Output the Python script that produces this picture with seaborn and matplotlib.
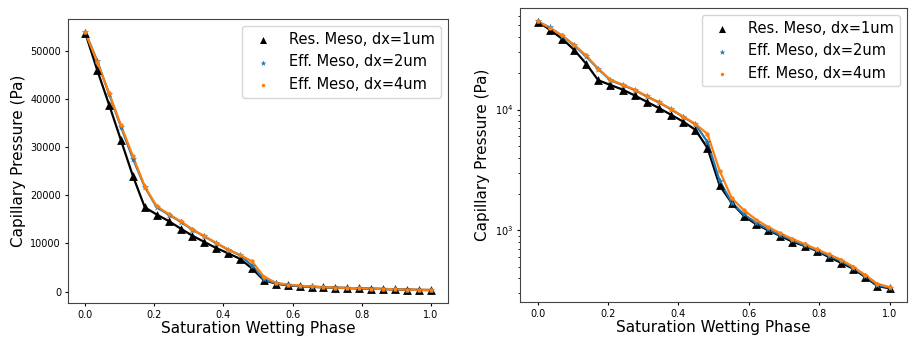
import numpy as np
import matplotlib
matplotlib.use('Agg')
import matplotlib.pyplot as plt
import seaborn as sns

# saturation of the wetting phase (30 points from 0 to 1)
saturation = np.linspace(0.0, 1.0, 30)

# capillary pressure (Pa)
res_dx1 = [53700, 46000, 38800, 31400, 24000, 17500, 16000, 14650, 13100, 11600,
           10300, 9050, 7950, 6800, 4800, 2350, 1680, 1315, 1122, 1000,
           897, 804, 741, 674, 600, 538, 480, 409, 345, 330]
eff_dx2 = [53900, 47900, 41000, 34200, 27600, 21700, 17500, 16000, 14500, 12850,
           11450, 10050, 8700, 7550, 5400, 2570, 1695, 1352, 1156, 1018,
           914, 826, 750, 682, 615, 556, 489, 417, 351, 334]
eff_dx4 = [53800, 47700, 41200, 34500, 28100, 21800, 17700, 16100, 14600, 12900,
           11500, 10100, 8740, 7610, 6280, 3110, 1845, 1466, 1225, 1065,
           944, 847, 769, 695, 631, 570, 499, 425, 360, 338]

series = [
    ('Res. Meso, dx=1um', res_dx1, 'black', '^', 40),
    ('Eff. Meso, dx=2um', eff_dx2, '#1f77b4', '*', 30),
    ('Eff. Meso, dx=4um', eff_dx4, '#ff7f0e', 'o', 10),
]

fig = plt.figure(figsize=(9.09, 3.40), dpi=100)
ax1 = fig.add_axes([0.0748, 0.109, 0.418, 0.835])
ax2 = fig.add_axes([0.572, 0.1126, 0.426, 0.864])

for ax in (ax1, ax2):
    for label, y, color, marker, size in series:
        sns.lineplot(x=saturation, y=y, color=color, linewidth=1.6,
                     ax=ax, legend=False)
        sns.scatterplot(x=saturation, y=y, color=color, marker=marker,
                        s=size, linewidth=0, label=label, ax=ax, zorder=3)
    ax.set_xlabel('Saturation Wetting Phase', fontsize=11, labelpad=1)
    ax.set_ylabel('Capillary Pressure (Pa)', fontsize=11, labelpad=3)
    ax.tick_params(labelsize=7, length=2.5, pad=2.5)
    ax.tick_params(which='minor', length=1.5)
    for sp in ax.spines.values():
        sp.set_color('#444444')
    ax.legend(fontsize=10.5, loc='upper right', markerscale=0.8)

ax2.set_yscale('log')

fig.savefig('out.png', dpi=100)
